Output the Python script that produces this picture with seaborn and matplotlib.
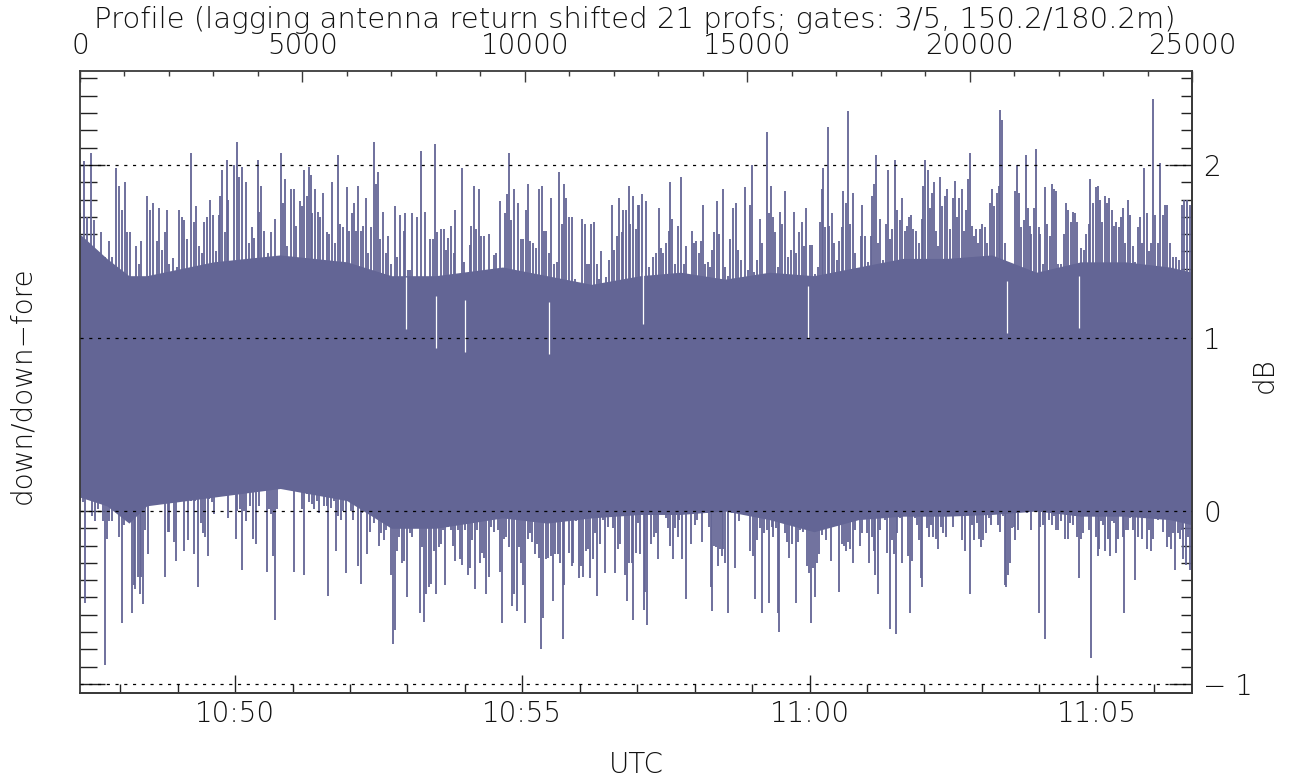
import matplotlib
matplotlib.use('Agg')
import matplotlib.pyplot as plt
import seaborn as sns
import numpy as np
from matplotlib.ticker import MultipleLocator, FixedLocator, FuncFormatter

# values (x: profile index, y: dB)
# solid core of the trace
band_x = [0, 600, 1100, 1500, 3000, 4500, 6000, 7000, 8000, 9500, 10500, 11500, 12600, 13500,
          14500, 15500, 16500, 17500, 18500, 19500, 20500, 21500, 22500, 23500, 24500, 25000]
band_top = [1.60, 1.46, 1.36, 1.36, 1.44, 1.48, 1.44, 1.36, 1.36, 1.41, 1.36, 1.31, 1.36, 1.38,
            1.34, 1.38, 1.36, 1.41, 1.46, 1.46, 1.48, 1.38, 1.44, 1.44, 1.41, 1.38]
band_bot = [0.08, 0.03, -0.07, 0.03, 0.08, 0.13, 0.06, -0.10, -0.10, -0.04, -0.07, -0.04, -0.02,
            -0.02, 0.00, -0.05, -0.12, -0.05, -0.03, -0.03, -0.02, 0.00, -0.03, -0.03, -0.05, -0.08]

# upper extent of the samples (skyline of the trace)
up_x = [0, 80, 161, 241, 305, 402, 482, 563, 643, 723, 804, 884, 948, 1005, 1061, 1125, 1205, 1270,
        1326, 1382, 1446, 1511, 1567, 1647, 1728, 1784, 1848, 1905, 1953, 2009, 2089, 2170, 2226,
        2290, 2347, 2411, 2491, 2555, 2612, 2668, 2732, 2797, 2861, 2933, 2989, 3054, 3118, 3158,
        3198, 3255, 3295, 3335, 3391, 3455, 3520, 3576, 3632, 3680, 3737, 3793, 3857, 3914, 3994,
        4034, 4074, 4139, 4219, 4299, 4380, 4436, 4516, 4556, 4605, 4661, 4741, 4805, 4862, 4942,
        4998, 5047, 5103, 5143, 5183, 5223, 5280, 5344, 5400, 5464, 5545, 5609, 5665, 5722, 5802,
        5850, 5906, 5947, 6011, 6051, 6107, 6164, 6212, 6252, 6308, 6365, 6429, 6477, 6533, 6606,
        6654, 6710, 6750, 6815, 6871, 6927, 6991, 7072, 7128, 7192, 7273, 7313, 7369, 7409, 7473,
        7570, 7610, 7674, 7715, 7763, 7811, 7875, 7940, 7980, 8036, 8116, 8181, 8237, 8277, 8341,
        8398, 8438, 8518, 8582, 8639, 8695, 8759, 8799, 8856, 8904, 8960, 9016, 9081, 9137, 9201,
        9241, 9306, 9362, 9402, 9442, 9499, 9547, 9603, 9643, 9699, 9748, 9804, 9852, 9924, 9965,
        10029, 10077, 10125, 10190, 10246, 10326, 10382, 10431, 10487, 10543, 10591, 10648, 10728,
        10776, 10833, 10889, 10929, 10993, 11050, 11130, 11210, 11291, 11347, 11395, 11451, 11491,
        11556, 11612, 11668, 11716, 11773, 11829, 11893, 11958, 12014, 12070, 12118, 12175, 12215,
        12279, 12335, 12375, 12440, 12496, 12552,
        12574, 12631, 12671, 12735, 12791, 12872, 12952, 13008, 13056, 13113, 13177, 13233, 13273,
        13314, 13378, 13434, 13515, 13571, 13635, 13699, 13756, 13812, 13860, 13916, 13956, 13997,
        14053, 14117, 14173, 14214, 14262, 14318, 14374, 14455, 14503, 14559, 14615, 14680, 14744,
        14800, 14856, 14905, 14961, 15017, 15065, 15106, 15162, 15226, 15282, 15339, 15387, 15443,
        15483, 15524, 15580, 15628, 15684, 15740, 15789, 15861, 15925, 15982, 16046, 16102, 16166,
        16223, 16271, 16327, 16407, 16464, 16528, 16584, 16632, 16672, 16705, 16753, 16809, 16849,
        16897, 16954, 17010, 17074, 17131, 17155, 17211, 17267, 17316, 17372, 17428, 17492, 17556,
        17589, 17653, 17717, 17774, 17814, 17846, 17894, 17942, 17991, 18055, 18111, 18159, 18216,
        18264, 18312, 18376, 18432, 18473, 18537, 18593, 18633, 18682, 18738, 18794, 18858, 18923,
        18963, 19003, 19059, 19100, 19148, 19196, 19244, 19284, 19341, 19389, 19445, 19501, 19558,
        19622, 19662, 19726, 19767, 19823, 19863, 19919, 19959, 19999, 20048, 20104, 20144, 20200,
        20240, 20289, 20345, 20401, 20449, 20506, 20546, 20610, 20650, 20691, 20731, 20787, 20892,
        20948, 20988, 21028, 21068, 21109, 21165, 21229, 21269, 21310, 21350, 21390, 21446, 21494,
        21551, 21591, 21647, 21687, 21751, 21800, 21848, 21896, 21952, 21992, 22057, 22113, 22177,
        22217, 22273, 22330, 22370, 22418, 22515, 22571, 22619, 22675, 22716, 22780, 22836, 22876,
        22933, 22981, 23037, 23085, 23134, 23198, 23246, 23302, 23359, 23407, 23455, 23503, 23560,
        23616, 23680, 23728, 23777, 23825, 23881, 23921, 23985, 24042, 24082, 24130, 24178, 24226,
        24283, 24339, 24387, 24443, 24500, 24564, 24604, 24644, 24708, 24765, 24821, 24885, 24950,
        24990]
up_y = [1.72, 2.02, 1.70, 2.07, 1.68, 1.49, 1.61, 1.47, 1.56, 1.47, 1.98, 1.88, 1.74, 1.90, 1.61,
        1.61, 1.20, 1.53, 1.43, 1.56, 1.35, 1.82, 1.74, 1.78, 1.56, 1.75, 1.51, 1.61, 1.74, 1.43,
        1.46, 1.41, 1.74, 1.70, 1.68, 1.57, 2.07, 1.67, 1.76, 1.53, 1.49, 1.67, 1.70, 1.80, 1.71,
        1.50, 1.71, 1.82, 1.97, 1.61, 2.03, 1.80, 1.39, 2.00, 2.13, 1.93, 1.99, 1.44, 1.90, 1.55,
        1.64, 1.58, 2.03, 1.73, 1.88, 1.62, 1.49, 1.61, 1.69, 1.47, 2.07, 1.78, 1.92, 1.53, 1.86,
        1.86, 1.65, 1.79, 1.76, 1.97, 1.82, 1.99, 1.94, 1.72, 1.86, 1.73, 1.70, 1.84, 1.61, 1.60,
        1.90, 1.55, 2.06, 1.66, 1.64, 1.43, 1.87, 1.62, 1.72, 1.78, 1.62, 1.88, 1.62, 1.65, 1.81,
        1.49, 1.64, 2.13, 1.89, 1.96, 1.57, 1.73, 1.49, 1.59, 1.43, 1.76, 1.47, 1.71, 1.62, 1.72,
        1.39, 1.39, 1.72, 1.70, 1.34, 2.08, 1.32, 1.73, 1.34, 1.57, 1.57, 2.12, 1.61, 1.63, 1.63,
        1.51, 1.58, 1.65, 1.49, 1.74, 1.26, 1.98, 1.44, 1.35, 1.54, 1.65, 1.88, 1.63, 1.86, 1.59,
        1.59, 1.37, 1.60, 1.30, 1.48, 1.49, 1.39, 1.79, 1.39, 1.72, 1.83, 2.07, 1.68, 1.86, 1.35,
        1.78, 1.57, 1.57, 1.74, 1.89, 1.56, 1.55, 1.52, 1.86, 1.88, 1.62, 1.62, 1.49, 1.81, 1.43,
        1.44, 1.96, 1.66, 1.89, 1.81, 1.70, 1.70, 1.34, 1.32, 1.69, 1.66, 1.43, 1.43, 1.66, 1.67,
        1.43, 1.34, 1.50, 1.19, 1.35, 1.45, 1.77, 1.51, 1.59, 1.81, 1.61, 1.74, 1.74, 1.88, 1.66,
        1.82, 1.63, 1.77,
        1.77, 1.83, 1.34, 1.79, 1.41, 1.47, 1.49, 1.75, 1.52, 1.49, 1.55, 1.62, 1.90, 1.69, 1.43,
        1.65, 1.93, 1.43, 1.53, 1.33, 1.62, 1.55, 1.56, 1.49, 1.56, 1.77, 1.43, 1.44, 1.41, 1.51,
        1.61, 1.79, 1.60, 1.86, 1.41, 1.36, 1.57, 1.75, 1.78, 1.51, 1.45, 1.29, 1.87, 1.39, 1.77,
        2.00, 1.38, 1.45, 1.69, 1.55, 1.32, 2.19, 1.72, 1.88, 1.70, 1.61, 1.41, 1.73, 1.66, 1.85,
        1.47, 1.51, 1.73, 1.49, 1.61, 1.67, 1.53, 1.75, 1.54, 1.54, 1.37, 1.41, 1.67, 1.86, 1.98,
        1.64, 2.22, 1.65, 1.72, 1.55, 1.45, 1.56, 1.64, 1.85, 1.78, 2.31, 1.66, 1.84, 1.49, 1.39,
        1.59, 1.77, 1.59, 1.44, 1.59, 1.82, 1.89, 2.06, 1.55, 1.69, 1.45, 1.66, 1.97, 1.57, 1.63,
        2.03, 1.74, 1.68, 1.81, 1.62, 1.65, 1.70, 1.71, 1.63, 1.62, 1.55, 1.69, 1.88, 2.03, 1.97,
        1.75, 1.84, 1.90, 1.62, 1.53, 1.93, 1.76, 1.82, 1.86, 1.63, 1.81, 1.91, 1.70, 1.81, 1.86,
        1.62, 1.74, 1.92, 2.07, 1.65, 1.59, 1.63, 1.55, 1.63, 1.66, 1.64, 1.55, 1.78, 1.86, 1.76,
        1.84, 1.88, 2.32, 2.26, 1.55, 1.41, 1.35, 1.28, 1.85, 2.00, 1.84, 1.64, 1.68, 2.06, 1.75,
        1.65, 1.60, 1.75, 2.09, 1.64, 1.60, 1.43, 1.87, 1.66, 1.59, 1.89, 1.86, 1.85, 1.43, 1.43,
        1.60, 1.78, 1.74, 1.67, 1.73, 1.72, 1.67, 1.52, 1.51, 1.60, 1.66, 1.92, 1.78, 1.87, 1.88,
        1.80, 1.67, 1.82, 1.78, 1.81, 1.74, 1.65, 1.67, 1.64, 1.70, 1.75, 1.55, 1.80, 1.71, 1.53,
        1.44, 1.64, 1.70, 1.55, 1.98, 1.72, 1.50, 1.55, 2.38, 1.71, 1.55, 2.01, 1.71, 1.77, 1.77,
        1.55, 1.47, 1.39, 1.47, 1.45, 1.77, 1.80, 1.80, 1.77, 1.70]

# lower extent of the samples
dn_x = [0, 64, 121, 201, 281, 338, 402, 466, 522, 563, 603, 659, 723, 788, 844, 884, 940, 980,
        1045, 1101, 1165, 1205, 1246, 1302, 1350, 1382, 1422, 1471, 1527, 1591, 1647, 1704, 1768,
        1808, 1864, 1913, 1969, 2009, 2073, 2105, 2154, 2210, 2266, 2330, 2371, 2427, 2491, 2555,
        2596, 2652, 2716, 2772, 2813, 2869, 2909, 2973, 3014, 3054, 3118, 3174, 3230, 3279, 3319,
        3375, 3439, 3496, 3536, 3592, 3640, 3680, 3737, 3777, 3833, 3897, 3962, 4018, 4074, 4114,
        4139, 4195, 4243, 4299, 4339, 4388, 4436, 4484, 4540, 4597, 4645, 4701, 4741, 4781, 4822,
        4878, 4918, 4982, 5047, 5103, 5143, 5207, 5264, 5320, 5368, 5424, 5489, 5545, 5585, 5649,
        5706, 5762, 5802, 5866, 5923, 5971, 6027, 6083, 6148, 6204, 6252, 6308, 6348, 6405, 6453,
        6509, 6565, 6614, 6670, 6726, 6774, 6831, 6887, 6951, 6991, 7032, 7072, 7120, 7176, 7232,
        7289, 7353, 7409, 7473, 7530, 7578, 7634, 7691, 7739, 7779, 7835, 7891, 7956, 8012, 8060,
        8116, 8165, 8213, 8277, 8333, 8382, 8438, 8494, 8542, 8599, 8655, 8719, 8759, 8815, 8880,
        8936, 8984, 9041, 9081, 9137, 9185, 9241, 9298, 9346, 9402, 9442, 9482, 9539, 9587, 9643,
        9707, 9764, 9820, 9868, 9924, 9965, 10005, 10061, 10109, 10166, 10222, 10270, 10326, 10366,
        10415, 10471, 10527, 10583, 10632, 10688, 10744, 10792, 10849, 10889, 10929, 10993, 11050,
        11090, 11154, 11210, 11267, 11315, 11371, 11411, 11476, 11532, 11572, 11628, 11692, 11749,
        11813, 11869, 11917, 11974, 12030, 12094, 12150, 12199, 12255, 12295, 12352, 12400, 12440,
        12496,
        12550, 12590, 12631, 12671, 12711, 12751, 12807, 12848, 12896, 12952, 12992, 13040, 13089,
        13169, 13217, 13273, 13330, 13378, 13434, 13474, 13531, 13579, 13635, 13675, 13731, 13780,
        13820, 13876, 13916, 13973, 14037, 14093, 14141, 14181, 14214, 14254, 14294, 14342, 14382,
        14423, 14463, 14503, 14559, 14615, 14664, 14728, 14776, 14824, 14856, 14905, 14961, 15017,
        15066, 15122, 15178, 15226, 15282, 15339, 15387, 15443, 15499, 15548, 15588, 15644, 15684,
        15724, 15764, 15805, 15845, 15901, 15949, 16006, 16046, 16102, 16142, 16190, 16247, 16303,
        16351, 16391, 16432, 16472, 16528, 16568, 16624, 16672, 16713, 16769, 16825, 16873, 16914,
        16970, 17026, 17074, 17131, 17171, 17227, 17267, 17316, 17372, 17428, 17476, 17533, 17589,
        17637, 17693, 17749, 17798, 17846, 17878, 17934, 17991, 18039, 18095, 18135, 18183, 18216,
        18264, 18296, 18336, 18377, 18433, 18473, 18521, 18577, 18617, 18666, 18714, 18762, 18818,
        18858, 18899, 18939, 18987, 19035, 19083, 19124, 19180, 19244, 19300, 19357, 19405, 19461,
        19517, 19566, 19622, 19678, 19726, 19783, 19839, 19887, 19943, 19999, 20048, 20096, 20160,
        20208, 20265, 20305, 20369, 20425, 20482, 20546, 20586, 20642, 20691, 20747, 20787, 20827,
        20867, 20908, 20948, 20988, 21028, 21084, 21133, 21189, 21245, 21293, 21350, 21390, 21446,
        21494, 21551, 21591, 21647, 21695, 21751, 21791, 21848, 21896, 21952, 21992, 22049, 22097,
        22153, 22201, 22250, 22314, 22370, 22418, 22458, 22515, 22555, 22619, 22675, 22732, 22780,
        22836, 22876, 22916, 22956, 23004, 23053, 23101, 23157, 23197, 23245, 23294, 23342, 23398,
        23438, 23479, 23519, 23567, 23615, 23680, 23728, 23776, 23825, 23881, 23921, 23985, 24042,
        24082, 24130, 24178, 24226, 24283, 24339, 24387, 24443, 24484, 24532, 24564, 24628, 24685,
        24725, 24765, 24805, 24861, 24901, 24950, 24990]
dn_y = [0.06, 0.05, -0.53, 0.08, -0.03, -0.06, 0.01, 0.08, -0.06, -0.89, -0.16, -0.06, -0.06, 0.01,
        0.28, -0.15, -0.65, -0.08, -0.05, 0.06, -0.59, -0.43, -0.45, -0.38, -0.48, -0.38, -0.54,
        -0.11, -0.25, 0.06, 0.05, 0.05, 0.13, 0.06, 0.30, -0.38, -0.12, -0.12, 0.09, -0.18, -0.29,
        0.15, 0.19, -0.23, 0.16, -0.17, 0.06, -0.25, 0.06, -0.44, -0.07, -0.13, -0.15, -0.26, 0.07,
        0.05, -0.02, 0.17, 0.30, 0.11, 0.20, 0.20, -0.04, 0.14, 0.16, -0.16, 0.00, 0.01, -0.34,
        0.00, -0.06, 0.12, 0.03, -0.16, -0.19, 0.03, 0.24, 0.32, 0.31, -0.35, 0.01, -0.02, -0.26,
        -0.63, 0.01, 0.15, 0.19, 0.20, 0.23, 0.24, 0.23, 0.26, -0.35, 0.25, 0.14, 0.01, -0.37,
        0.10, 0.05, 0.04, 0.01, 0.06, -0.01, 0.11, 0.03, 0.03, -0.49, 0.02, 0.06, -0.23, -0.03,
        -0.05, 0.00, -0.36, 0.13, 0.00, -0.05, 0.05, -0.32, -0.42, -0.01, 0.03, -0.25, -0.12, 0.14,
        -0.07, 0.04, -0.20, -0.13, -0.17, -0.11, 0.00, -0.37, -0.77, -0.69, -0.23, -0.15, -0.30,
        -0.29, -0.50, -0.13, -0.15, 0.01, -0.01, -0.59, -0.21, -0.64, -0.48, -0.44, -0.42, -0.23,
        -0.48, -0.21, -0.19, -0.11, -0.43, -0.09, -0.11, -0.20, -0.29, -0.11, -0.28, -0.31, -0.11,
        -0.37, -0.33, -0.17, -0.45, -0.11, -0.30, -0.24, -0.27, -0.48, -0.38, -0.09, -0.12, 0.01,
        -0.11, -0.35, -0.65, -0.16, -0.15, -0.21, -0.55, -0.48, -0.58, -0.21, -0.30, -0.43, -0.65,
        -0.16, -0.13, -0.18, -0.25, -0.19, -0.27, -0.80, -0.62, -0.28, -0.27, -0.26, -0.52, -0.25,
        -0.25, -0.30, -0.74, -0.43, 0.00, -0.24, -0.32, -0.30, -0.06, -0.39, -0.32, -0.38, -0.23,
        -0.22, -0.39, -0.28, -0.13, -0.49, -0.19, -0.05, -0.36, -0.09, 0.01, -0.10, -0.36, -0.22,
        -0.19, -0.02, -0.37, -0.52, -0.30, -0.30, -0.63, -0.24,
        -0.07, -0.25, 0.10, -0.57, -0.47, -0.66, -0.02, -0.19, -0.15, -0.13, -0.28, 0.03, 0.03,
        -0.04, -0.10, -0.20, -0.28, -0.10, -0.15, -0.05, -0.28, 0.01, -0.51, -0.02, -0.19, 0.05,
        -0.08, -0.05, -0.01, -0.18, 0.08, -0.01, -0.09, -0.44, -0.58, -0.20, -0.21, -0.32, -0.22,
        -0.26, -0.22, -0.30, -0.59, 0.09, -0.01, -0.33, 0.06, -0.06, 0.08, 0.03, 0.06, 0.01,
        -0.23, -0.26, -0.51, -0.17, -0.10, -0.59, -0.13, -0.11, -0.53, -0.09, -0.15, -0.10, -0.59,
        -0.70, 0.01, -0.02, -0.13, -0.18, -0.27, -0.19, -0.08, -0.53, -0.18, -0.11, -0.12, -0.06,
        -0.32, -0.36, -0.65, -0.33, -0.50, -0.30, -0.25, -0.14, -0.03, -0.17, -0.10, -0.29, -0.09,
        -0.07, -0.04, -0.47, -0.19, -0.20, -0.23, -0.18, -0.22, -0.30, -0.11, -0.05, -0.20, -0.13,
        0.04, -0.13, -0.30, -0.15, -0.23, -0.37, -0.48, -0.11, 0.05, -0.05, -0.24, 0.05, -0.68,
        -0.17, -0.25, -0.71, -0.13, -0.04, -0.30, 0.08, -0.02, -0.26, -0.59, -0.29, -0.04, -0.08,
        -0.17, -0.39, -0.44, 0.03, -0.10, -0.15, -0.08, -0.15, -0.16, -0.22, -0.09, -0.13, -0.15,
        0.05, -0.01, -0.09, -0.01, 0.09, -0.03, -0.17, -0.23, 0.08, -0.48, -0.08, -0.17, -0.07,
        -0.16, -0.21, -0.17, -0.13, -0.04, -0.08, -0.02, -0.01, -0.08, -0.12, -0.03, -0.43, -0.44,
        -0.37, -0.30, -0.10, -0.09, -0.17, -0.11, 0.00, 0.05, 0.02, -0.01, 0.06, -0.11, 0.00,
        0.00, -0.59, -0.09, -0.08, -0.74, 0.08, -0.05, -0.08, -0.03, -0.11, -0.11, -0.06, 0.05,
        -0.16, -0.16, -0.07, -0.08, -0.03, -0.15, -0.39, -0.16, -0.13, -0.02, -0.11, -0.85, -0.03,
        -0.15, -0.26, -0.22, -0.06, -0.08, -0.23, -0.16, -0.26, -0.06, -0.07, -0.24, -0.16, -0.01,
        -0.15, -0.59, -0.11, -0.11, -0.04, -0.11, -0.40, -0.15, 0.00, -0.16, -0.03, -0.22, -0.11,
        -0.23, -0.16, -0.04, -0.05, -0.02, -0.12, -0.02, -0.21, -0.15, -0.22, -0.13, -0.34, -0.13,
        -0.16, -0.11, -0.28, -0.31, -0.15, -0.34, -0.36]

# narrow dropouts cutting into the top of the trace
notch_x = [7329, 7996, 8663, 10550, 12655, 16367, 20843, 22458]
notch_y = [1.05, 0.94, 0.92, 0.91, 1.08, 1.00, 1.03, 1.06]

grid_levels = [-1, 0, 1, 2]
db_ticks = [-1, 0, 1, 2]
utc_major = [50, 55, 60, 65]          # minutes after 10:00
utc_minor = list(range(48, 67))

PROF_PER_MIN = 1291.5   # ~21.5 profiles per second
START_MIN = 47.30       # 10:47:18, minutes after 10:00

color = '#636595'
ink = '#111111'

sns.set_theme(style="white")
plt.rcParams['font.family'] = ['DejaVu Sans']
plt.rcParams['font.weight'] = 'light'
plt.rcParams['text.color'] = ink
plt.rcParams['xtick.color'] = ink
plt.rcParams['ytick.color'] = ink
fs = 20

fig = plt.figure(figsize=(12.89, 7.78), dpi=100)
ax = fig.add_axes([80 / 1289, 85 / 778, 1112 / 1289, 622 / 778])

center = 0.75
ax.fill_between(band_x, band_bot, band_top, color=color, lw=0, zorder=2)
ax.vlines(up_x, center, up_y, color=color, lw=1.3, zorder=2)
ax.vlines(dn_x, dn_y, center, color=color, lw=1.3, zorder=2)
ax.vlines(notch_x, notch_y, [v + 0.3 for v in notch_y], color='white', lw=0.9, zorder=2.5)

for lev in grid_levels:
    ax.axhline(lev, color='black', lw=0.9, ls=(0, (2.5, 4.5)), zorder=3)

ax.set_xlim(0, 25000)
ax.set_ylim(-1.052, 2.543)

for s in ax.spines.values():
    s.set_color('#3a3a3a')
    s.set_linewidth(1.3)

# top axis: profile number
ax.xaxis.set_major_locator(MultipleLocator(5000))
ax.xaxis.set_minor_locator(MultipleLocator(1000))
ax.tick_params(axis='x', which='both', bottom=False, labelbottom=False, top=True, labeltop=True,
               direction='in', color='#3a3a3a', width=1.0, pad=8, labelsize=fs, labelcolor=ink)
ax.tick_params(axis='x', which='major', length=8)
ax.tick_params(axis='x', which='minor', length=3.6)

# left axis: ticks only
ax.yaxis.set_major_locator(FixedLocator(db_ticks))
ax.yaxis.set_minor_locator(MultipleLocator(0.1))
ax.tick_params(axis='y', which='both', left=True, right=False, labelleft=False,
               direction='in', color='#222222', width=1.0)
ax.tick_params(axis='y', which='major', length=18)
ax.tick_params(axis='y', which='minor', length=12)

# right axis: dB labels
ay = ax.secondary_yaxis('right')
ay.yaxis.set_major_locator(FixedLocator(db_ticks))
ay.yaxis.set_minor_locator(MultipleLocator(0.1))
ay.yaxis.set_major_formatter(FuncFormatter(lambda v, pos: f"{int(round(v))}".replace('-', '\u2212 ')))
ay.tick_params(which='both', direction='in', color='#222222', width=1.0, pad=8, labelsize=fs,
               labelcolor=ink)
ay.tick_params(which='major', length=16.5)
ay.tick_params(which='minor', length=8)
ay.spines['right'].set_color('#3a3a3a')
ay.spines['right'].set_linewidth(1.3)

# bottom axis: UTC time
bx = ax.secondary_xaxis('bottom', functions=(lambda p: START_MIN + np.asarray(p) / PROF_PER_MIN,
                                             lambda m: (np.asarray(m) - START_MIN) * PROF_PER_MIN))
bx.xaxis.set_major_locator(FixedLocator(utc_major))
bx.xaxis.set_minor_locator(FixedLocator(utc_minor))
bx.xaxis.set_major_formatter(FuncFormatter(
    lambda m, pos: f"{10 + int(round(m)) // 60}:{int(round(m)) % 60:02d}"))
bx.tick_params(which='both', direction='in', color='#222222', width=1.0, pad=5, labelsize=fs,
               labelcolor=ink)
bx.tick_params(which='major', length=13)
bx.tick_params(which='minor', length=6.5)
bx.spines['bottom'].set_color('#3a3a3a')
bx.spines['bottom'].set_linewidth(1.3)

fig.text(635 / 1289, 1 - 20 / 778,
         "Profile (lagging antenna return shifted 21 profs; gates: 3/5, 150.2/180.2m)",
         ha='center', va='center', fontsize=21)
fig.text(636 / 1289, 1 - 765 / 778, "UTC", ha='center', va='center', fontsize=fs)
fig.text(22 / 1289, 1 - 385 / 778, "down/down\u2212fore", ha='center', va='center',
         rotation=90, fontsize=fs)
fig.text(1265 / 1289, 1 - 375 / 778, "dB", ha='center', va='center', rotation=90, fontsize=fs)

fig.savefig('out.png', dpi=100)
